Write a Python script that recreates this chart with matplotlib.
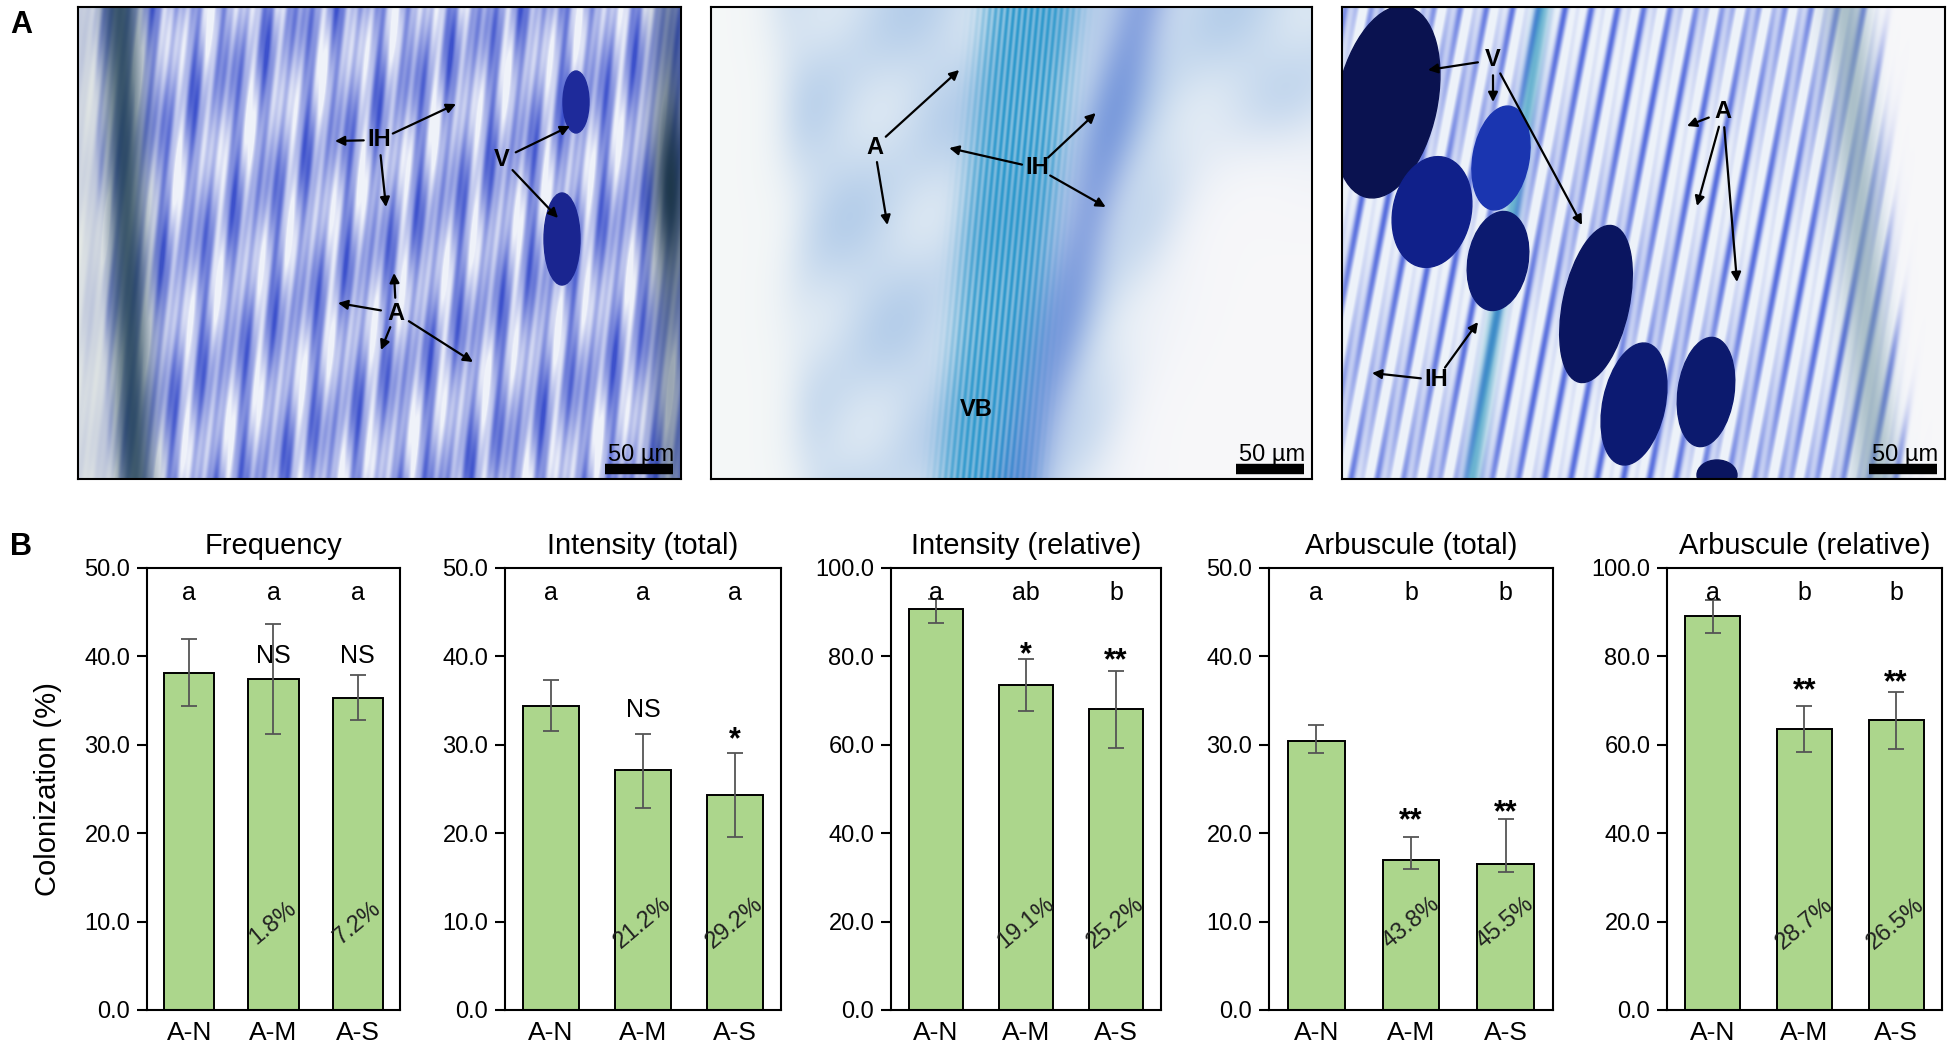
import numpy as np
import matplotlib
matplotlib.use('Agg')
import matplotlib.pyplot as plt
from matplotlib.patches import Ellipse

plt.rcParams['font.family'] = ['Liberation Sans', 'DejaVu Sans']

# ---------------- data ----------------
categories = ['A-N', 'A-M', 'A-S']
panel_titles = ['Frequency', 'Intensity (total)', 'Intensity (relative)',
                'Arbuscule (total)', 'Arbuscule (relative)']

frequency = [38.1, 37.4, 35.3]
frequency_low = [34.4, 31.2, 32.8]
frequency_high = [42.0, 43.7, 37.9]

intensity_total = [34.4, 27.1, 24.3]
intensity_total_low = [31.6, 22.9, 19.6]
intensity_total_high = [37.3, 31.2, 29.1]

intensity_rel = [90.7, 73.6, 68.0]
intensity_rel_low = [87.5, 67.7, 59.2]
intensity_rel_high = [93.0, 79.4, 76.8]

arbuscule_total = [30.4, 17.0, 16.5]
arbuscule_total_low = [29.1, 16.0, 15.6]
arbuscule_total_high = [32.2, 19.6, 21.6]

arbuscule_rel = [89.1, 63.6, 65.5]
arbuscule_rel_low = [85.3, 58.3, 59.0]
arbuscule_rel_high = [92.7, 68.7, 71.9]

letters = [['a', 'a', 'a'], ['a', 'a', 'a'], ['a', 'ab', 'b'],
           ['a', 'b', 'b'], ['a', 'b', 'b']]
signif = [['', 'NS', 'NS'], ['', 'NS', '*'], ['', '*', '**'],
          ['', '**', '**'], ['', '**', '**']]
reductions = [['', '1.8%', '7.2%'], ['', '21.2%', '29.2%'], ['', '19.1%', '25.2%'],
              ['', '43.8%', '45.5%'], ['', '28.7%', '26.5%']]
ymax_list = [50, 50, 100, 50, 100]
ystep_list = [10, 10, 20, 10, 20]
ylabel = 'Colonization (%)'

# layout: visual centre of the significance marks (data units)
signif_y = [[None, 40.3, 40.3], [None, 34.2, 31.6], [None, 82.4, 81.1],
            [None, 22.4, 23.3], [None, 74.3, 76.0]]

means = [frequency, intensity_total, intensity_rel, arbuscule_total, arbuscule_rel]
lows = [frequency_low, intensity_total_low, intensity_rel_low, arbuscule_total_low, arbuscule_rel_low]
highs = [frequency_high, intensity_total_high, intensity_rel_high, arbuscule_total_high, arbuscule_rel_high]

# ---------------- figure ----------------
W, H = 1949, 1048
fig = plt.figure(figsize=(W / 100, H / 100), dpi=100)


def px_axes(x0, x1, y0, y1):
    return fig.add_axes([x0 / W, 1 - y1 / H, (x1 - x0) / W, (y1 - y0) / H])


# ---------- photo textures (decorative placeholders) ----------
PW, PH = 603, 472


def grid():
    x = np.arange(PW, dtype=float)[None, :]
    y = np.arange(PH, dtype=float)[:, None]
    return x, y


def mix(img, col, a):
    a = np.clip(a, 0, 1)[..., None]
    return img * (1 - a) + np.array(col) * a


def sig(v):
    return 1 / (1 + np.exp(-v))


def photo1():
    x, y = grid()
    s = (0.42 + 0.22 * np.sin(2 * np.pi * (x + 0.06 * y) / 23.0)
         + 0.2 * np.sin(2 * np.pi * (x - 0.04 * y) / 37.0 + 1.3)
         + 0.15 * np.sin(2 * np.pi * y / 140.0 + x / 31.0)
         + 0.08 * np.sin(2 * np.pi * (x + 0.12 * y) / 8.0))
    img = np.ones((PH, PW, 3)) * np.array([0.94, 0.95, 0.98])
    img = mix(img, [0.24, 0.32, 0.8], s)
    img = mix(img, [0.16, 0.28, 0.34], 0.85 * np.exp(-((x - 42 - 0.03 * y) / 20.0) ** 2))
    img = mix(img, [0.88, 0.9, 0.88], 0.8 * sig(-(x - 14 - 0.04 * y) / 2.0))
    img = mix(img, [0.12, 0.22, 0.3],
              np.exp(-((x - 592) / 18.0) ** 2) * (0.4 + 0.6 * np.exp(-((y - 180) / 90.0) ** 2)))
    return img


def photo2():
    x, y = grid()
    img = np.ones((PH, PW, 3)) * np.array([0.85, 0.9, 0.95])
    haze = 0.5 + 0.5 * np.sin(2 * np.pi * (x + 0.3 * y) / 160.0) * np.cos(2 * np.pi * y / 210.0)
    img = mix(img, [0.55, 0.7, 0.88], 0.45 * haze)
    img = mix(img, [0.96, 0.97, 0.97], sig(-(x - 70 - 0.05 * y) / 12.0))
    c = 320 - 45 * (y / PH)
    band = np.exp(-((x - c) / 48.0) ** 4)
    stripes = 0.75 + 0.25 * np.sin(2 * np.pi * (x - c) / 6.0)
    img = mix(img, [0.18, 0.6, 0.8], band * stripes)
    c2 = 430 - 0.25 * y
    img = mix(img, [0.3, 0.45, 0.82], 0.55 * np.exp(-((x - c2) / 30.0) ** 2))
    img = mix(img, [0.97, 0.97, 0.98],
              sig((x - 520 + 0.3 * y) / 18.0) * sig((y - 120) / 25.0))
    return img


def photo3():
    x, y = grid()
    s = (0.3 + 0.35 * np.sin(2 * np.pi * (x + 0.22 * y) / 27.0)
         + 0.25 * np.sin(2 * np.pi * (x + 0.18 * y) / 13.0 + 0.7))
    img = np.ones((PH, PW, 3)) * np.array([0.93, 0.95, 0.98])
    img = mix(img, [0.25, 0.35, 0.85], np.clip(s, 0, 1) ** 1.5)
    img = mix(img, [0.2, 0.6, 0.75], 0.7 * np.exp(-((x - 200 + 0.15 * y) / 8.0) ** 2))
    img = mix(img, [0.5, 0.62, 0.66], 0.6 * np.exp(-((x - 505 - 0.06 * y) / 22.0) ** 2))
    img = mix(img, [0.97, 0.97, 0.98], sig((x - 535 - 0.06 * y) / 5.0))
    return img


photo_boxes = [(78, 681), (711, 1312), (1342, 1945)]
photo_imgs = [photo1(), photo2(), photo3()]

# labels & arrows: (label, (x, y), [tips]) in photo pixel coordinates
photo_labels = [
    [('IH', (301, 133), [(257, 134), (378, 97), (308, 200)]),
     ('V', (424, 152), [(492, 119), (480, 211)]),
     ('A', (318, 306), [(316, 266), (260, 296), (303, 343), (395, 355)])],
    [('A', (164, 140), [(249, 63), (177, 218)]),
     ('IH', (327, 161), [(239, 141), (386, 106), (396, 200)]),
     ('VB', (266, 403), [])],
    [('V', (151, 53), [(86, 63), (151, 95), (240, 218)]),
     ('IH', (94, 373), [(30, 366), (136, 315)]),
     ('A', (381, 105), [(345, 119), (355, 199), (395, 275)])],
]

vesicles = [
    [((498, 95), 26, 62, 0, '#1e2a9a'), ((484, 232), 36, 92, 0, '#1a2590')],
    [],
    [((45, 95), 100, 195, 12, '#0a1250'), ((90, 205), 78, 112, 12, '#10208a'),
     ((159, 151), 56, 105, 10, '#1a35b0'), ((156, 254), 60, 100, 10, '#0c1a70'),
     ((254, 297), 66, 160, 12, '#0a1560'), ((292, 397), 62, 124, 12, '#0c1a72'),
     ((364, 385), 56, 110, 8, '#0c1a6e'), ((375, 468), 40, 30, 0, '#0a1560')],
]

for i, ((x0, x1), img) in enumerate(zip(photo_boxes, photo_imgs)):
    ax = px_axes(x0, x1, 7, 479)
    ax.imshow(img, extent=(0, PW, PH, 0), aspect='auto', interpolation='bilinear')
    for (cx, cy), ew, eh, ang, col in vesicles[i]:
        ax.add_patch(Ellipse((cx, cy), ew, eh, angle=ang, color=col, zorder=2))
    for lab, (lx, ly), tips in photo_labels[i]:
        ax.text(lx, ly, lab, ha='center', va='center', fontsize=17,
                fontweight='bold', color='black', zorder=5)
        for tx, ty in tips:
            ax.annotate('', xy=(tx, ty), xytext=(lx, ly),
                        arrowprops=dict(arrowstyle='-|>', color='black', lw=1.6,
                                        mutation_scale=14, shrinkA=11, shrinkB=0),
                        zorder=5)
    # scale bar
    ax.plot([527, 595], [462, 462], color='black', lw=7.5, solid_capstyle='butt', zorder=6)
    ax.text(596, 454, '50 µm', ha='right', va='baseline', fontsize=17, color='black', zorder=6)
    ax.set_xlim(0, PW)
    ax.set_ylim(PH, 0)
    ax.set_xticks([])
    ax.set_yticks([])
    for sp in ax.spines.values():
        sp.set_linewidth(1.5)

fig.text(21 / W, 1 - 25 / H, 'A', ha='center', va='center', fontsize=22, fontweight='bold')
fig.text(21 / W, 1 - 547 / H, 'B', ha='center', va='center', fontsize=22, fontweight='bold')

# ---------------- bar panels ----------------
panel_x = [(147, 400), (505, 781), (891, 1161), (1269, 1553), (1667, 1942)]
bar_color = '#acd68c'
xpos = np.arange(len(categories))

for p, (x0, x1) in enumerate(panel_x):
    ax = px_axes(x0, x1, 568, 1010)
    m = np.array(means[p])
    lo = np.array(lows[p])
    hi = np.array(highs[p])
    ax.bar(xpos, m, width=0.6, color=bar_color, edgecolor='black', linewidth=1.4, zorder=2)
    ax.errorbar(xpos, m, yerr=[m - lo, hi - m], fmt='none', ecolor='#555555',
                elinewidth=1.3, capsize=5.5, capthick=1.3, zorder=3)
    ymax = ymax_list[p]
    ax.set_xlim(-0.5, 2.5)
    ax.set_ylim(0, ymax)
    ticks = np.arange(0, ymax + 0.1, ystep_list[p])
    ax.set_yticks(ticks)
    ax.set_yticklabels([f'{v:.1f}' for v in ticks])
    ax.set_xticks(xpos)
    ax.set_xticklabels(categories)
    ax.tick_params(axis='y', length=7, width=1.5, pad=5, labelsize=17, direction='out')
    ax.tick_params(axis='x', length=0, pad=8, labelsize=19)
    for sp in ax.spines.values():
        sp.set_linewidth(1.5)
    ax.set_title(panel_titles[p], fontsize=21, pad=10)
    for j in range(3):
        ax.text(xpos[j], 0.927, letters[p][j], transform=ax.get_xaxis_transform(),
                ha='center', va='baseline', fontsize=18, zorder=4)
        if signif[p][j]:
            is_star = '*' in signif[p][j]
            fs = 22 if is_star else 18
            k = 0.57 if is_star else 0.36
            ax.annotate(signif[p][j], xy=(xpos[j], signif_y[p][j]),
                        xytext=(0, -k * fs), textcoords='offset points',
                        ha='center', va='baseline', fontsize=fs,
                        fontweight='bold' if is_star else 'normal', zorder=4)
        if reductions[p][j]:
            ax.text(xpos[j], 0.196, reductions[p][j], transform=ax.get_xaxis_transform(),
                    ha='center', va='center', rotation=40, rotation_mode='anchor',
                    fontsize=17, color='#222222', zorder=4)

fig.text(48 / W, 1 - 789 / H, ylabel, rotation=90, ha='center', va='center', fontsize=21)

fig.savefig('out.png', dpi=100)
